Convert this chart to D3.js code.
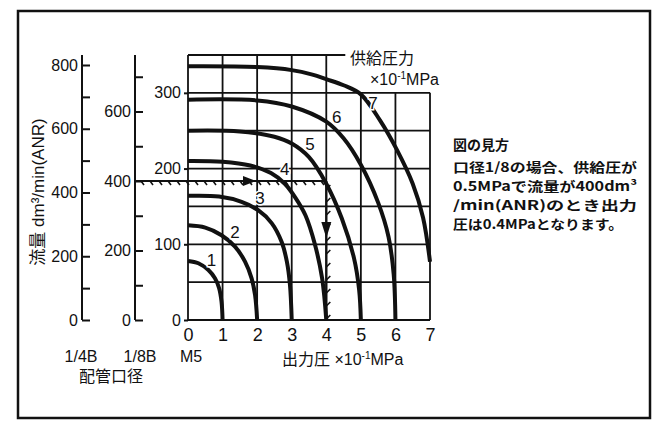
<!DOCTYPE html>
<html lang="ja">
<head>
<meta charset="utf-8">
<title>流量特性</title>
<script src="https://d3js.org/d3.v7.min.js"></script>
<style>
  body { margin: 0; background: #fff; }
  text { fill: #111; }
  .num { font-family: "Liberation Sans Narrow", "Arial Narrow", "Liberation Sans", sans-serif; }
  .lbl { font-family: "Liberation Sans", "Noto Sans CJK JP", sans-serif; }
  .note { font-family: "Noto Sans CJK JP", sans-serif; font-weight: bold; }
  .axis path.domain { display: none; }
  .axis line { stroke: #111; stroke-width: 2; }
</style>
</head>
<body>
<svg id="chart" width="654" height="421"></svg>
<script>
// output pressure ticks (x10^-1 MPa)
var pressTicks = [0, 1, 2, 3, 4, 5, 6, 7];
// flow ticks for each port size (dm3/min ANR)
var ticks14 = [0, 100, 200, 300, 400, 500, 600, 700, 800];
var ticks18 = [0, 100, 200, 300, 400, 500, 600, 700];
var ticksM5 = [0, 100, 200, 300];
var gridRows = [0, 50, 100, 150, 200, 250, 300, 350];

// supply pressure curves, [output pressure, flow on M5 scale]
var curve1 = [[0, 78], [0.3, 75], [0.59, 66], [0.78, 55], [0.9, 42], [0.97, 24], [1.0, 0]];
var curve2 = [[0, 125], [0.5, 122], [0.97, 112], [1.36, 97], [1.65, 77], [1.84, 55], [1.94, 33], [2.0, 0]];
var curve3 = [[0, 164], [0.9, 163], [1.55, 156], [2.03, 145], [2.42, 128], [2.71, 103], [2.86, 77], [2.95, 46], [3.0, 0]];
var curve4 = [[0, 210], [1.0, 209], [1.8, 204], [2.4, 194], [2.8, 180], [3.1, 162], [3.4, 138], [3.67, 100], [3.88, 55], [4.0, 0]];
var curve5 = [[0, 250], [1.5, 249], [2.5, 242], [3.0, 233], [3.5, 215], [4.0, 180], [4.45, 134], [4.8, 82], [4.95, 40], [5.0, 0]];
var curve6 = [[0, 291], [2.0, 290], [3.0, 282], [4.0, 262], [4.5, 240], [5.0, 205], [5.5, 155], [5.8, 110], [5.95, 60], [6.0, 0]];
var curve7 = [[0, 335], [2.0, 334], [3.0, 330], [3.6, 324], [4.0, 318], [4.5, 310], [5.0, 298], [5.55, 264], [6.04, 225], [6.5, 180], [6.8, 135], [7.0, 77]];
var curves = [curve1, curve2, curve3, curve4, curve5, curve6, curve7];
var supplyLabels = ['1', '2', '3', '4', '5', '6', '7'];
// where each curve number sits [x, flow M5]
var labelPos = [[0.68, 80], [1.36, 117], [2.08, 161], [2.8, 200], [3.53, 233], [4.3, 268], [5.35, 287]];

// example reading: 1/8B, 400 dm3/min -> output 4
var exFlow = 400;
var exOut = 4;

var svg = d3.select('#chart');

var x = d3.scaleLinear().domain([0, 7]).range([188, 430]);
var yM5 = d3.scaleLinear().domain([0, 350]).range([320, 55]);
var y18 = d3.scaleLinear().domain([0, 400]).range([320, 181]);
var y14 = d3.scaleLinear().domain([0, 800]).range([320, 65]);

// outer frame
svg.append('path')
  .attr('d', 'M18,418 L18,11 L650,11 L650,418 Z')
  .attr('fill', 'none')
  .attr('stroke', '#111')
  .attr('stroke-width', 2.5);

// grid
var grid = svg.append('g').attr('stroke', '#111').attr('stroke-width', 1.8);
grid.selectAll('line.v')
  .data(pressTicks)
  .enter()
  .append('line')
  .attr('x1', function(d) { return x(d); })
  .attr('x2', function(d) { return x(d); })
  .attr('y1', yM5(0))
  .attr('y2', function(d) { return d <= 4 ? yM5(350) : yM5(300); });
grid.selectAll('line.h')
  .data(gridRows)
  .enter()
  .append('line')
  .attr('x1', x(0))
  .attr('x2', function(d) { return d < 350 ? x(7) : x(4.55); })
  .attr('y1', function(d) { return yM5(d); })
  .attr('y2', function(d) { return yM5(d); });

// left flow axes
function flowAxis(scale, xpos, vals) {
  var g = svg.append('g')
    .attr('class', 'axis num')
    .attr('transform', 'translate(' + xpos + ',0)')
    .call(d3.axisLeft(scale)
      .tickValues(vals)
      .tickSize(-8)
      .tickPadding(4)
      .tickFormat(function(d) { return d % 200 === 0 ? d : ''; }));
  g.selectAll('text').attr('font-size', 16).attr('fill', '#111');
  g.append('line')
    .attr('y1', scale(0))
    .attr('y2', 55)
    .attr('stroke', '#111')
    .attr('stroke-width', 2);
}
flowAxis(y14, 82, ticks14);
flowAxis(y18, 135, ticks18);

var m5 = svg.append('g')
  .attr('class', 'axis num')
  .attr('transform', 'translate(' + x(0) + ',0)')
  .call(d3.axisLeft(yM5).tickValues(ticksM5).tickSize(4).tickPadding(3));
m5.selectAll('text').attr('font-size', 16).attr('fill', '#111');

var xa = svg.append('g')
  .attr('class', 'axis num')
  .attr('transform', 'translate(0,' + yM5(0) + ')')
  .call(d3.axisBottom(x).tickValues(pressTicks).tickSize(0).tickPadding(8).tickFormat(d3.format('d')));
xa.selectAll('text').attr('font-size', 18).attr('fill', '#111');

// curves
var line = d3.line()
  .x(function(d) { return x(d[0]); })
  .y(function(d) { return yM5(d[1]); })
  .curve(d3.curveCatmullRom.alpha(0.5));

svg.append('g')
  .selectAll('path')
  .data(curves)
  .enter()
  .append('path')
  .attr('d', line)
  .attr('fill', 'none')
  .attr('stroke', '#111')
  .attr('stroke-width', 4);

svg.append('g')
  .attr('class', 'num')
  .selectAll('text')
  .data(supplyLabels)
  .enter()
  .append('text')
  .attr('x', function(d, i) { return x(labelPos[i][0]); })
  .attr('y', function(d, i) { return yM5(labelPos[i][1]); })
  .attr('text-anchor', 'middle')
  .attr('dy', '0.36em')
  .attr('font-size', 17)
  .attr('stroke', '#fff')
  .attr('stroke-width', 3)
  .attr('paint-order', 'stroke')
  .text(function(d) { return d; });

// hatched reading path
var hy = y18(exFlow), hx0 = 135, hx1 = x(exOut);
var hat = svg.append('g').attr('stroke', '#111').attr('stroke-width', 1.6).attr('fill', 'none');
hat.append('line').attr('x1', hx0).attr('x2', hx1).attr('y1', hy).attr('y2', hy).attr('stroke-width', 2.2);
hat.append('line').attr('x1', hx1).attr('x2', hx1).attr('y1', hy).attr('y2', yM5(0)).attr('stroke-width', 2.2);
hat.selectAll('path.hh')
  .data(d3.range(hx0 + 6, hx1 - 2, 9))
  .enter()
  .append('path')
  .attr('d', function(d) { return 'M' + d + ',' + hy + ' l3,4'; });
hat.selectAll('path.vh')
  .data(d3.range(hy + 8, yM5(0), 13))
  .enter()
  .append('path')
  .attr('d', function(d) { return 'M' + hx1 + ',' + d + ' l4,-4'; });
svg.append('path')
  .attr('d', 'M243,' + (hy - 5) + ' L256,' + hy + ' L243,' + (hy + 5) + ' Z')
  .attr('fill', '#111');
svg.append('path')
  .attr('d', 'M' + (hx1 - 5) + ',222 L' + hx1 + ',238 L' + (hx1 + 5) + ',222 Z')
  .attr('fill', '#111');

// labels
function unitText(g, xx, yy, anchor) {
  var t = g.append('text')
    .attr('class', 'lbl')
    .attr('x', xx)
    .attr('y', yy)
    .attr('font-size', 16)
    .attr('text-anchor', anchor);
  return t;
}

var t1 = unitText(svg, 282, 365, 'start');
t1.append('tspan').text('出力圧  ×10');
t1.append('tspan').attr('font-size', 10).attr('dy', -6).text('-1');
t1.append('tspan').attr('dy', 6).text('MPa');

unitText(svg, 350, 64, 'start').text('供給圧力');
var t2 = unitText(svg, 370, 85, 'start');
t2.append('tspan').text('×10');
t2.append('tspan').attr('font-size', 10).attr('dy', -6).text('-1');
t2.append('tspan').attr('dy', 6).text('MPa');

svg.append('text')
  .attr('class', 'lbl')
  .attr('transform', 'translate(44,192) rotate(-90)')
  .attr('text-anchor', 'middle')
  .attr('font-size', 17)
  .text('流量 dm³/min(ANR)');

var ports = [['1/4B', 81], ['1/8B', 140], ['M5', 191]];
svg.selectAll('text.port')
  .data(ports)
  .enter()
  .append('text')
  .attr('class', 'lbl')
  .attr('x', function(d) { return d[1]; })
  .attr('y', 362)
  .attr('text-anchor', 'middle')
  .attr('font-size', 16)
  .text(function(d) { return d[0]; });
svg.append('text')
  .attr('class', 'lbl')
  .attr('x', 111)
  .attr('y', 382)
  .attr('text-anchor', 'middle')
  .attr('font-size', 16)
  .text('配管口径');

var noteLines = ['口径1/8の場合、供給圧が', '0.5MPaで流量が400dm³', '/min(ANR)のとき出力', '圧は0.4MPaとなります。'];
svg.append('text')
  .attr('class', 'note')
  .attr('x', 453)
  .attr('y', 150)
  .attr('font-size', 14)
  .text('図の見方');
svg.selectAll('text.nl')
  .data(noteLines)
  .enter()
  .append('text')
  .attr('class', 'note')
  .attr('x', 453)
  .attr('y', function(d, i) { return 172 + i * 19; })
  .attr('font-size', 13)
  .attr('textLength', function(d, i) { return i === 3 ? 170 : 184; })
  .attr('lengthAdjust', 'spacingAndGlyphs')
  .text(function(d) { return d; });
</script>
</body>
</html>
